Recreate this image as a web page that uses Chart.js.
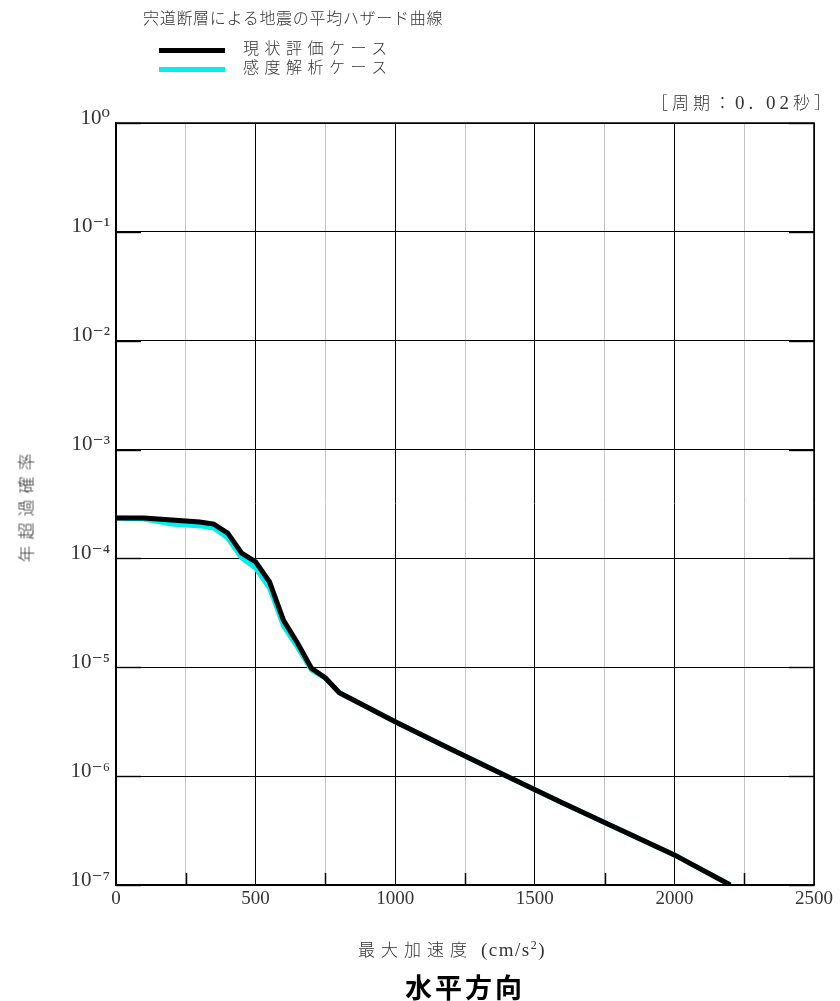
<!DOCTYPE html>
<html><head><meta charset="utf-8">
<script src="https://cdn.jsdelivr.net/npm/chart.js@4/dist/chart.umd.min.js"></script>
<style>
html,body{margin:0;padding:0;background:#fff;}
#wrap{position:relative;width:840px;height:1001px;}
canvas{position:absolute;left:0;top:0;}
.t{position:absolute;font-family:"Noto Sans CJK JP","Noto Sans",sans-serif;font-weight:300;color:#333;white-space:nowrap;line-height:1;}
.s{font-family:"Liberation Serif","DejaVu Serif",serif;}
.lg{position:absolute;height:5px;width:66px;left:159px;}
</style></head>
<body><div id="wrap">
<canvas id="c" width="840" height="1001"></canvas>
<div class="t" style="left:143px;top:9px;font-size:16px;letter-spacing:0.7px;">宍道断層による地震の平均ハザード曲線</div>
<div class="lg" style="top:48px;background:#000;"></div>
<div class="lg" style="top:67px;background:#00f0f0;"></div>
<div class="t" style="left:243px;top:39px;font-size:16px;letter-spacing:5.5px;">現状評価ケース</div>
<div class="t" style="left:243px;top:58px;font-size:16px;letter-spacing:5.5px;">感度解析ケース</div>
<div class="t" style="right:5px;top:93px;font-size:17px;letter-spacing:4px;">［周期：<span class="s" style="font-size:19px;">0. 02</span>秒］</div>
<div class="t" style="left:25px;top:505px;font-size:17px;letter-spacing:6px;transform:translate(-50%,-50%) rotate(-90deg);">年超過確率</div>
<div class="t" style="left:358px;top:939px;font-size:17px;"><span style="letter-spacing:6px;">最大加速度</span><span class="s" style="font-size:19px;padding-left:8px;letter-spacing:1.5px;">(cm/s<sup style="font-size:12px;">2</sup>)</span></div>
<div class="t" style="left:405px;top:973px;font-size:27px;font-weight:bold;letter-spacing:3px;color:#000;">水平方向</div>
</div>
<script>
const accel = [0,100,200,300,350,400,450,500,550,600,650,700,750,800,1000,1200,1400,1600,1800,2000,2200];
const baseCase = [2.35e-4,2.35e-4,2.25e-4,2.16e-4,2.07e-4,1.71e-4,1.12e-4,9.3e-5,6.07e-5,2.7e-5,1.67e-5,9.8e-6,7.98e-6,5.83e-6,3.16e-6,1.77e-6,1.0e-6,5.66e-7,3.27e-7,1.89e-7,1.0e-7];
const sensCase = [2.35e-4,2.3e-4,2.07e-4,1.99e-4,1.9e-4,1.54e-4,1.01e-4,8.17e-5,5.35e-5,2.39e-5,1.53e-5,9.44e-6,7.98e-6,5.83e-6,3.16e-6,1.77e-6,1.0e-6,5.66e-7,3.27e-7,1.89e-7,1.0e-7];
const seriesNames = ['現状評価ケース','感度解析ケース'];
const yTickExps = [0,-1,-2,-3,-4,-5,-6,-7];
const xMajorLabels = [0,500,1000,1500,2000,2500];

const sup = {'0':'⁰','1':'¹','2':'²','3':'³','4':'⁴','5':'⁵','6':'⁶','7':'⁷','8':'⁸','9':'⁹','-':'⁻'};
const toSup = s => String(s).split('').map(ch=>sup[ch]||ch).join('');

const minorTicks = {
  id:'minorTicks',
  afterDatasetsDraw(chart){
    const {ctx, chartArea:a, scales:{x,y}} = chart;
    ctx.save();
    ctx.strokeStyle='#000';
    ctx.lineWidth=1.5;
    for(let v=250; v<2500; v+=500){
      const px = Math.round(x.getPixelForValue(v))+0.5;
      ctx.beginPath(); ctx.moveTo(px,a.bottom); ctx.lineTo(px,a.bottom-12); ctx.stroke();
    }
    ctx.lineWidth=1.4;
    yTickExps.forEach(e=>{
      const py = Math.round(y.getPixelForValue(Math.pow(10,e)))+0.5;
      ctx.beginPath(); ctx.moveTo(a.left,py); ctx.lineTo(a.left+25,py); ctx.stroke();
      ctx.beginPath(); ctx.moveTo(a.right,py); ctx.lineTo(a.right-25,py); ctx.stroke();
    });
    ctx.lineWidth=1.5;
    ctx.strokeRect(a.left,a.top,a.right-a.left,a.bottom-a.top);
    ctx.restore();
  }
};

new Chart(document.getElementById('c'), {
  type:'line',
  data:{
    datasets:[
      {label:seriesNames[0], data:accel.map((a,i)=>({x:a,y:baseCase[i]})), borderColor:'#000', borderWidth:5, pointRadius:0, tension:0, order:0},
      {label:seriesNames[1], data:accel.map((a,i)=>({x:a,y:sensCase[i]})), borderColor:'#00f0f0', borderWidth:5, pointRadius:0, tension:0, order:1}
    ]
  },
  options:{
    responsive:false, animation:false,
    layout:{padding:{left:0,top:123,right:26,bottom:0}},
    plugins:{legend:{display:false}, tooltip:{enabled:false}},
    scales:{
      x:{type:'linear', min:0, max:2500,
        afterFit(s){ s.height = 116; },
        afterBuildTicks(s){ const t=[]; for(let v=0; v<=2500; v+=250) t.push({value:v}); s.ticks=t; },
        grid:{drawTicks:false, color:c=> (c.tick && c.tick.value%500===0) ? '#000' : '#c4c4c4', lineWidth:1},
        border:{color:'#000', width:1.5},
        ticks:{autoSkip:false, maxRotation:0, padding:3, color:'#333',
          font:{family:'"Liberation Serif","DejaVu Serif",serif', size:19},
          callback:v=> xMajorLabels.includes(v) ? String(v) : ''}
      },
      y:{type:'logarithmic', min:1e-7, max:1,
        afterFit(s){ s.width = 116; },
        afterBuildTicks(s){ s.ticks = yTickExps.map(e=>({value:Math.pow(10,e)})); },
        grid:{drawTicks:false, color:'#000', lineWidth:1},
        border:{color:'#000', width:1.5},
        ticks:{autoSkip:false, padding:6, color:'#333', labelOffset:-5,
          font:{family:'"Liberation Serif","DejaVu Serif",serif', size:21},
          callback:v=> '10'+toSup(Math.round(Math.log10(v)))}
      }
    }
  },
  plugins:[minorTicks]
});
</script>
</body></html>
